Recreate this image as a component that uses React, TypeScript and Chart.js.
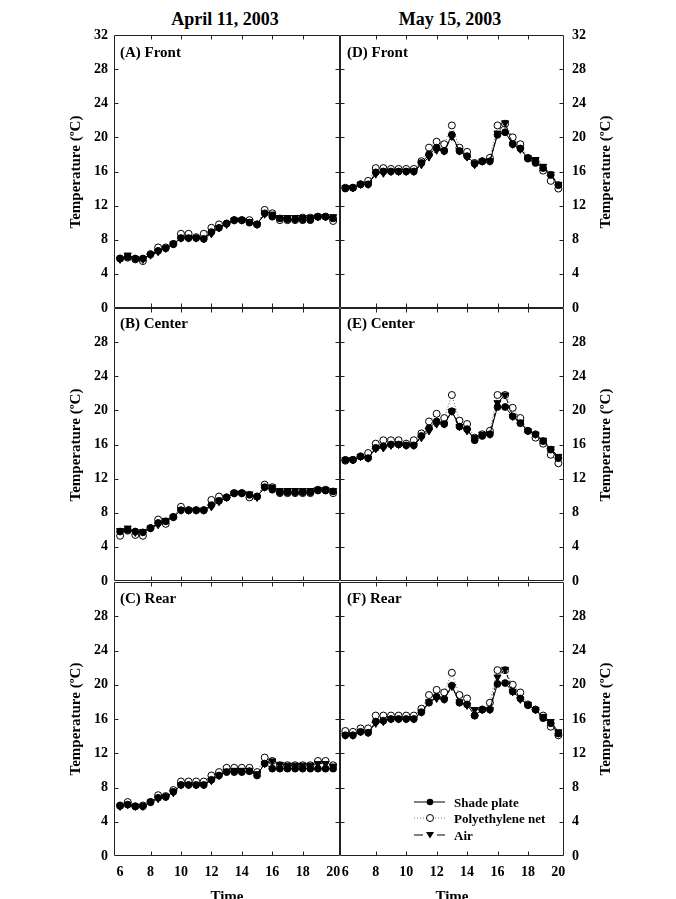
import React, { useEffect, useRef } from "react";
import { Chart, registerables } from "chart.js";

Chart.register(...registerables);

// ---------- data ----------
const times = [6, 6.5, 7, 7.5, 8, 8.5, 9, 9.5, 10, 10.5, 11, 11.5, 12, 12.5, 13, 13.5, 14, 14.5, 15, 15.5, 16, 16.5, 17, 17.5, 18, 18.5, 19, 19.5, 20];

// April 11, 2003
const shadeA = [5.8, 6.0, 5.8, 5.8, 6.3, 6.7, 7.0, 7.5, 8.2, 8.2, 8.2, 8.1, 8.9, 9.4, 9.9, 10.3, 10.3, 10.0, 9.8, 11.1, 10.7, 10.5, 10.4, 10.4, 10.3, 10.3, 10.7, 10.7, 10.5];
const polyA = [5.8, 5.9, 5.7, 5.5, 6.3, 7.1, 7.1, 7.5, 8.7, 8.7, 8.3, 8.7, 9.4, 9.8, 9.9, 10.3, 10.3, 10.3, 9.8, 11.5, 11.1, 10.3, 10.3, 10.3, 10.6, 10.6, 10.7, 10.7, 10.2];
const airA = [5.7, 6.2, 5.8, 5.7, 6.2, 6.6, 7.0, 7.5, 8.2, 8.2, 8.2, 8.1, 8.7, 9.4, 9.8, 10.3, 10.3, 10.1, 9.8, 11.0, 11.0, 10.6, 10.6, 10.6, 10.6, 10.6, 10.7, 10.7, 10.7];

const shadeB = [5.8, 6.0, 5.8, 5.7, 6.2, 6.8, 7.0, 7.5, 8.3, 8.3, 8.3, 8.3, 8.9, 9.4, 9.8, 10.3, 10.3, 10.1, 9.9, 11.0, 10.7, 10.4, 10.4, 10.4, 10.4, 10.4, 10.6, 10.6, 10.5];
const polyB = [5.3, 5.9, 5.4, 5.3, 6.2, 7.2, 6.7, 7.5, 8.7, 8.3, 8.3, 8.3, 9.5, 9.9, 9.8, 10.3, 10.3, 9.8, 9.9, 11.3, 11.0, 10.3, 10.3, 10.3, 10.3, 10.3, 10.7, 10.7, 10.3];
const airB = [5.9, 6.2, 5.7, 5.8, 6.2, 6.6, 7.1, 7.5, 8.3, 8.3, 8.3, 8.3, 8.7, 9.3, 9.8, 10.3, 10.3, 10.2, 9.8, 11.0, 11.0, 10.6, 10.6, 10.6, 10.6, 10.6, 10.7, 10.7, 10.6];

const shadeC = [5.85, 6.0, 5.8, 5.8, 6.3, 6.8, 6.9, 7.5, 8.3, 8.3, 8.3, 8.3, 8.9, 9.4, 9.8, 9.8, 9.8, 9.9, 9.4, 10.8, 10.2, 10.2, 10.2, 10.2, 10.2, 10.2, 10.2, 10.2, 10.2];
const polyC = [5.9, 6.3, 5.8, 5.9, 6.3, 7.1, 7.0, 7.7, 8.7, 8.7, 8.7, 8.7, 9.4, 9.8, 10.3, 10.3, 10.3, 10.3, 9.8, 11.5, 11.1, 10.6, 10.6, 10.6, 10.6, 10.6, 11.1, 11.1, 10.6];
const airC = [5.8, 6.0, 5.8, 5.8, 6.3, 6.7, 6.9, 7.4, 8.3, 8.3, 8.3, 8.3, 8.8, 9.4, 9.9, 10.0, 10.0, 10.0, 9.6, 10.8, 11.1, 10.7, 10.6, 10.6, 10.6, 10.6, 10.8, 10.8, 10.5];

// May 15, 2003
const shadeD = [14.0, 14.1, 14.5, 14.5, 15.9, 16.0, 16.0, 16.0, 16.0, 16.0, 17.0, 18.0, 18.8, 18.4, 20.3, 18.4, 17.8, 16.9, 17.2, 17.2, 20.3, 20.6, 19.2, 18.7, 17.5, 17.0, 16.4, 15.6, 14.4];
const polyD = [14.1, 14.1, 14.5, 14.9, 16.4, 16.4, 16.3, 16.3, 16.3, 16.3, 17.2, 18.8, 19.5, 19.2, 21.4, 18.8, 18.3, 17.0, 17.2, 17.6, 21.4, 21.6, 20.0, 19.2, 17.6, 17.2, 16.1, 14.9, 14.0];
const airD = [14.1, 14.1, 14.5, 14.5, 15.7, 15.8, 16.0, 16.0, 16.0, 16.0, 16.8, 17.7, 18.5, 18.4, 20.1, 18.4, 17.7, 16.8, 17.2, 17.2, 20.5, 21.7, 19.2, 18.6, 17.6, 17.4, 16.6, 15.7, 14.5];

const shadeE = [14.2, 14.2, 14.6, 14.4, 15.6, 15.8, 16.0, 16.0, 15.9, 15.9, 17.0, 17.9, 18.7, 18.4, 19.9, 18.1, 17.8, 16.5, 17.0, 17.2, 20.4, 20.4, 19.3, 18.5, 17.6, 17.2, 16.4, 15.4, 14.4];
const polyE = [14.1, 14.2, 14.6, 15.0, 16.1, 16.5, 16.5, 16.5, 16.1, 16.5, 17.3, 18.7, 19.6, 19.1, 21.8, 18.8, 18.4, 16.8, 17.2, 17.6, 21.8, 21.8, 20.3, 19.1, 17.6, 16.8, 16.1, 14.8, 13.8];
const airE = [14.2, 14.2, 14.6, 14.4, 15.5, 15.6, 15.9, 16.0, 15.9, 15.9, 16.8, 17.6, 18.4, 18.4, 19.9, 18.1, 17.6, 16.8, 17.2, 17.2, 20.9, 21.8, 19.3, 18.6, 17.6, 17.2, 16.5, 15.5, 14.6];

const shadeF = [14.1, 14.1, 14.5, 14.4, 15.7, 15.8, 16.0, 16.0, 16.0, 16.0, 16.8, 17.9, 18.6, 18.3, 19.9, 17.9, 17.7, 16.4, 17.1, 17.1, 20.1, 20.2, 19.2, 18.4, 17.6, 17.1, 16.1, 15.5, 14.3];
const polyF = [14.6, 14.5, 14.9, 14.9, 16.4, 16.4, 16.4, 16.4, 16.4, 16.4, 17.2, 18.8, 19.4, 19.1, 21.4, 18.8, 18.4, 16.4, 17.1, 17.9, 21.7, 21.7, 20.0, 19.1, 17.7, 17.1, 16.4, 15.1, 14.1];
const airF = [14.1, 14.1, 14.5, 14.4, 15.5, 15.7, 16.0, 16.0, 16.0, 16.0, 16.8, 18.0, 18.4, 18.3, 19.8, 18.0, 17.6, 17.1, 17.1, 17.1, 20.9, 21.8, 19.2, 18.3, 17.7, 17.1, 16.3, 15.7, 14.5];

const seriesNames = ["Shade plate", "Polyethylene net", "Air"];
const dateTitles = ["April 11, 2003", "May 15, 2003"];
const panelLabels = ["(A) Front", "(B) Center", "(C) Rear", "(D) Front", "(E) Center", "(F) Rear"];
const yTicksTop = [0, 4, 8, 12, 16, 20, 24, 28, 32];
const yTicksLower = [0, 4, 8, 12, 16, 20, 24, 28];
const xTickLabels = [6, 8, 10, 12, 14, 16, 18, 20];
const xTickMarks = [8, 10, 12, 14, 16, 18];
const yTickMarks = [4, 8, 12, 16, 20, 24, 28];
const yTitle = "Temperature (ºC)";
const xTitle = "Time";

// ---------- style ----------
const FONT = '"Liberation Serif", "Times New Roman", serif';

const framePlugin = {
  id: "frame",
  afterDatasetsDraw(chart: any) {
    const { ctx, chartArea } = chart;
    const { left, right, top, bottom } = chartArea;
    const xs = chart.scales.x;
    const ys = chart.scales.y;
    ctx.save();
    ctx.strokeStyle = "#222";
    ctx.lineWidth = 1;
    const L = Math.round(left) + 0.5;
    const R = Math.round(right) - 0.5;
    const T = Math.round(top) + 0.5;
    const B = Math.round(bottom) - 0.5;
    ctx.beginPath();
    ctx.rect(L, T, R - L, B - T);
    ctx.stroke();
    const tl = 4;
    ctx.beginPath();
    for (const v of xTickMarks) {
      const px = Math.round(xs.getPixelForValue(v)) + 0.5;
      ctx.moveTo(px, B);
      ctx.lineTo(px, B - tl);
      ctx.moveTo(px, T);
      ctx.lineTo(px, T + tl);
    }
    for (const v of yTickMarks) {
      const py = Math.round(ys.getPixelForValue(v)) + 0.5;
      ctx.moveTo(L, py);
      ctx.lineTo(L + tl, py);
      ctx.moveTo(R, py);
      ctx.lineTo(R - tl, py);
    }
    ctx.stroke();
    ctx.restore();
  },
};

type PanelCfg = {
  shade: number[];
  poly: number[];
  air: number[];
  side: "left" | "right";
  left: number;
  top: number;
  width: number;
  height: number;
  padTop: number;
  showX: boolean;
  yTicks: number[];
  xMin: number;
  xMax: number;
};

function toXY(vals: number[]) {
  return vals.map((v, i) => ({ x: times[i], y: v }));
}

function Panel({ cfg }: { cfg: PanelCfg }) {
  const ref = useRef<HTMLCanvasElement>(null);
  useEffect(() => {
    const tickFont = { family: FONT, size: 14, weight: "bold" as const };
    const chart = new Chart(ref.current as HTMLCanvasElement, {
      type: "line",
      data: {
        datasets: [
          {
            label: seriesNames[0],
            data: toXY(cfg.shade),
            borderColor: "#000",
            borderWidth: 1,
            pointStyle: "circle",
            pointRadius: 3.4,
            pointBackgroundColor: "#000",
            pointBorderColor: "#000",
            pointBorderWidth: 1,
            order: 2,
          },
          {
            label: seriesNames[1],
            data: toXY(cfg.poly),
            borderColor: "#666",
            borderWidth: 1,
            borderDash: [1, 2],
            pointStyle: "circle",
            pointRadius: 3.5,
            pointBackgroundColor: "#fff",
            pointBorderColor: "#000",
            pointBorderWidth: 1,
            order: 3,
          },
          {
            label: seriesNames[2],
            data: toXY(cfg.air),
            borderColor: "#000",
            borderWidth: 1,
            borderDash: [4, 2],
            pointStyle: "triangle",
            pointRotation: 180,
            pointRadius: 4.1,
            pointBackgroundColor: "#000",
            pointBorderColor: "#000",
            pointBorderWidth: 1,
            order: 1,
          },
        ] as any,
      },
      options: {
        animation: false,
        responsive: false,
        maintainAspectRatio: false,
        layout: {
          autoPadding: false,
          padding: {
            top: cfg.padTop,
            bottom: 0,
            left: cfg.side === "right" ? 5 : 0,
            right: cfg.side === "left" ? 5 : 0,
          },
        },
        plugins: { legend: { display: false }, tooltip: { enabled: false } },
        scales: {
          x: {
            type: "linear",
            min: cfg.xMin,
            max: cfg.xMax,
            position: "bottom",
            grid: { display: false, drawTicks: false },
            border: { display: false },
            ticks: {
              display: cfg.showX,
              font: tickFont,
              color: "#000",
              padding: 8,
              maxRotation: 0,
              autoSkip: false,
            },
            afterBuildTicks: (s: any) => {
              s.ticks = xTickLabels.map((v) => ({ value: v }));
            },
            afterFit: (s: any) => {
              s.height = cfg.showX ? 25 : 5;
              s.paddingLeft = 0;
              s.paddingRight = 0;
              s.paddingTop = 0;
              s.paddingBottom = 0;
            },
          },
          y: {
            type: "linear",
            min: 0,
            max: 32,
            position: cfg.side,
            grid: { display: false, drawTicks: false },
            border: { display: false },
            ticks: {
              font: tickFont,
              color: "#000",
              padding: cfg.side === "left" ? 6 : 8,
              autoSkip: false,
            },
            afterBuildTicks: (s: any) => {
              s.ticks = cfg.yTicks.map((v) => ({ value: v }));
            },
            afterFit: (s: any) => {
              s.width = cfg.side === "left" ? 54 : 56;
              s.paddingLeft = 0;
              s.paddingRight = 0;
              s.paddingTop = 0;
              s.paddingBottom = 0;
            },
          },
        } as any,
      },
      plugins: [framePlugin],
    });
    return () => chart.destroy();
  }, []);
  return (
    <canvas
      ref={ref}
      width={cfg.width}
      height={cfg.height}
      style={{ position: "absolute", left: cfg.left, top: cfg.top, width: cfg.width, height: cfg.height }}
    />
  );
}

// plot boxes: left 114-340, right 340-564; rows 35-308, 308-581, 582-856
const rows = [
  { top: 20, height: 293, padTop: 15, showX: false, yTicks: yTicksTop },
  { top: 303, height: 283, padTop: 5, showX: false, yTicks: yTicksLower },
  { top: 577, height: 304, padTop: 5, showX: true, yTicks: yTicksLower },
];
const leftData = [
  [shadeA, polyA, airA],
  [shadeB, polyB, airB],
  [shadeC, polyC, airC],
];
const rightData = [
  [shadeD, polyD, airD],
  [shadeE, polyE, airE],
  [shadeF, polyF, airF],
];

const txt = (extra: React.CSSProperties): React.CSSProperties => ({
  position: "absolute",
  fontFamily: FONT,
  fontWeight: "bold",
  color: "#000",
  whiteSpace: "nowrap",
  lineHeight: 1,
  ...extra,
});

function LegendRow({ y, kind, label }: { y: number; kind: number; label: string }) {
  return (
    <div style={{ position: "absolute", left: 412, top: y - 8, height: 16, display: "flex", alignItems: "center" }}>
      <svg width={34} height={16} style={{ display: "block" }}>
        {kind === 0 && <line x1={2} y1={8} x2={33} y2={8} stroke="#000" strokeWidth={1} />}
        {kind === 0 && <circle cx={18} cy={8} r={3.3} fill="#000" />}
        {kind === 1 && <line x1={2} y1={8} x2={33} y2={8} stroke="#777" strokeWidth={1} strokeDasharray="1,2" />}
        {kind === 1 && <circle cx={18} cy={8} r={3.5} fill="#fff" stroke="#000" strokeWidth={1} />}
        {kind === 2 && <line x1={2} y1={8} x2={11} y2={8} stroke="#000" strokeWidth={1} />}
        {kind === 2 && <line x1={25} y1={8} x2={33} y2={8} stroke="#000" strokeWidth={1} />}
        {kind === 2 && <polygon points="14,5 22,5 18,11.5" fill="#000" />}
      </svg>
      <span style={{ marginLeft: 8, fontFamily: FONT, fontWeight: "bold", fontSize: 13, lineHeight: 1 }}>{label}</span>
    </div>
  );
}

export default function App() {
  const panelCenters = [171.5, 444.5, 719];
  const labelTops = [45, 316, 591];
  return (
    <div style={{ position: "absolute", left: 0, top: 0, width: 676, height: 899, background: "#fff", overflow: "hidden" }}>
      <div style={txt({ left: 225, top: 10, fontSize: 18, transform: "translateX(-50%)" })}>{dateTitles[0]}</div>
      <div style={txt({ left: 450, top: 10, fontSize: 18, transform: "translateX(-50%)" })}>{dateTitles[1]}</div>

      {rows.map((r, i) => (
        <Panel
          key={"L" + i}
          cfg={{
            shade: leftData[i][0],
            poly: leftData[i][1],
            air: leftData[i][2],
            side: "left",
            left: 60,
            top: r.top,
            width: 285,
            height: r.height,
            padTop: r.padTop,
            showX: r.showX,
            yTicks: r.yTicks,
            xMin: 5.6,
            xMax: 20.45,
          }}
        />
      ))}
      {rows.map((r, i) => (
        <Panel
          key={"R" + i}
          cfg={{
            shade: rightData[i][0],
            poly: rightData[i][1],
            air: rightData[i][2],
            side: "right",
            left: 335,
            top: r.top,
            width: 285,
            height: r.height,
            padTop: r.padTop,
            showX: r.showX,
            yTicks: r.yTicks,
            xMin: 5.65,
            xMax: 20.37,
          }}
        />
      ))}

      {panelLabels.map((p, i) => (
        <div key={p} style={txt({ left: i < 3 ? 120 : 347, top: labelTops[i % 3], fontSize: 15 })}>{p}</div>
      ))}

      {panelCenters.map((c, i) => (
        <React.Fragment key={"yt" + i}>
          <div style={txt({ left: 75, top: c, fontSize: 15, transform: "translate(-50%, -50%) rotate(-90deg)" })}>{yTitle}</div>
          <div style={txt({ left: 605, top: c, fontSize: 15, transform: "translate(-50%, -50%) rotate(-90deg)" })}>{yTitle}</div>
        </React.Fragment>
      ))}

      <div style={txt({ left: 227, top: 889, fontSize: 15, transform: "translateX(-50%)" })}>{xTitle}</div>
      <div style={txt({ left: 452, top: 889, fontSize: 15, transform: "translateX(-50%)" })}>{xTitle}</div>

      <LegendRow y={802} kind={0} label={seriesNames[0]} />
      <LegendRow y={818} kind={1} label={seriesNames[1]} />
      <LegendRow y={835} kind={2} label={seriesNames[2]} />
    </div>
  );
}
